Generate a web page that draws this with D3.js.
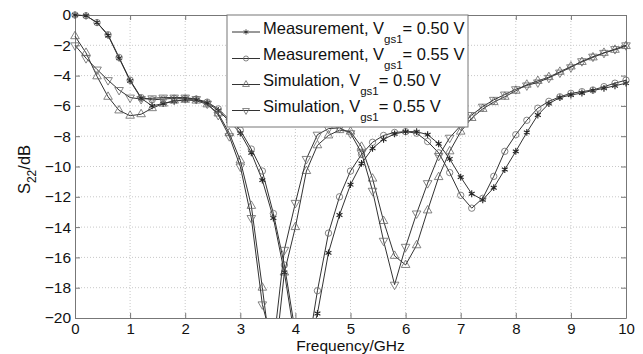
<!DOCTYPE html>
<html>
<head>
<meta charset="utf-8">
<script src="https://cdn.jsdelivr.net/npm/d3@7"></script>
<style>
  body { margin: 0; background: #fff; }
  svg { display: block; font-family: "Liberation Sans", Arial, sans-serif; }
</style>
</head>
<body>
<div id="my_dataviz"></div>
<script>
// frequency points (GHz), one marker each
var freq = [0, 0.2, 0.4, 0.6, 0.8, 1.0, 1.2, 1.4, 1.6, 1.8,
  2.0, 2.2, 2.4, 2.6, 2.8, 3.0, 3.2, 3.4, 3.6, 3.8,
  4.0, 4.2, 4.4, 4.6, 4.8, 5.0, 5.2, 5.4, 5.6, 5.8,
  6.0, 6.2, 6.4, 6.6, 6.8, 7.0, 7.2, 7.4, 7.6, 7.8,
  8.0, 8.2, 8.4, 8.6, 8.8, 9.0, 9.2, 9.4, 9.6, 9.8,
  10.0];

// S22 in dB
var meas050 = [0, -0.05, -0.5, -1.35, -2.85, -4.35, -5.5, -6.0, -5.85, -5.7,
  -5.6, -5.6, -5.8, -6.3, -7.0, -7.8, -9.1, -10.9, -13.4, -17.0,
  -21.6, -22.5, -19.7, -15.7, -13.2, -11.2, -9.8, -8.8, -8.2, -7.85,
  -7.7, -7.7, -7.9, -8.5, -9.5, -10.7, -11.8, -12.2, -11.4, -10.2,
  -9.0, -7.75, -6.6, -5.85, -5.45, -5.28, -5.15, -4.98, -4.84, -4.67,
  -4.5];
var meas055 = [0, -0.05, -0.5, -1.3, -2.8, -4.3, -5.45, -5.6, -5.55, -5.5,
  -5.5, -5.55, -5.75, -6.2, -6.9, -7.6, -8.85, -10.3, -13.1, -16.5,
  -21.0, -22.7, -18.2, -14.4, -12.0, -10.3, -9.2, -8.4, -7.95, -7.75,
  -7.7, -7.8, -8.35, -9.1, -10.4, -11.9, -12.75, -12.1, -10.65, -9.0,
  -7.9, -6.95, -6.15, -5.7, -5.4, -5.17, -5.06, -4.95, -4.73, -4.5,
  -4.3];
var sim050 = [-1.4, -2.5, -4.05, -5.4, -6.3, -6.65, -6.55, -6.15, -5.85, -5.65,
  -5.6, -5.65, -5.9, -6.5, -7.8, -9.6, -12.6, -18.0, -23.7, -17.0,
  -14.0, -10.3, -8.6, -7.95, -7.6, -7.7, -8.7, -10.8, -13.6, -15.9,
  -16.5, -15.2, -12.9, -10.7, -9.0, -7.7, -6.8, -6.2, -5.75, -5.4,
  -5.0, -4.6, -4.35, -4.1, -3.75, -3.4, -3.1, -2.8, -2.5, -2.3,
  -2.05];
var sim055 = [-2.0, -2.85, -3.6, -4.3, -4.95, -5.45, -5.55, -5.5, -5.45, -5.45,
  -5.45, -5.55, -5.85, -6.6, -8.0, -10.0, -13.4, -19.1, -21.9, -15.5,
  -12.4, -9.5, -7.9, -7.5, -7.45, -7.8, -9.1, -11.6, -14.9, -17.8,
  -15.3, -13.1, -11.1, -9.3, -8.1, -7.3, -6.6, -6.05, -5.6, -5.25,
  -4.9, -4.65, -4.45, -4.15, -3.8, -3.45, -3.05, -2.75, -2.5, -2.25,
  -2.0];

var seriesNames = ["Measurement, V", "Measurement, V", "Simulation, V", "Simulation, V"];
var seriesVolts = ["= 0.50 V", "= 0.55 V", "= 0.50 V", "= 0.55 V"];
var seriesMarkers = ["asterisk", "circle", "triangle", "down"];
var seriesValues = [meas050, meas055, sim050, sim055];

var xTicks = [0, 1, 2, 3, 4, 5, 6, 7, 8, 9, 10];
var yTicks = [-20, -18, -16, -14, -12, -10, -8, -6, -4, -2, 0];

// set the dimensions and margins of the graph
var margin = { top: 15, right: 17, bottom: 36, left: 75 },
  width = 643 - margin.left - margin.right,
  height = 354 - margin.top - margin.bottom;

var svg = d3.select("#my_dataviz")
  .append("svg")
  .attr("width", width + margin.left + margin.right)
  .attr("height", height + margin.top + margin.bottom)
  .append("g")
  .attr("transform", "translate(" + margin.left + "," + margin.top + ")");

var x = d3.scaleLinear().domain([0, 10]).range([0, width]);
var y = d3.scaleLinear().domain([-20, 0]).range([height, 0]);

// dotted grid
svg.append("g").selectAll("line")
  .data(xTicks.slice(1, -1))
  .enter().append("line")
  .attr("x1", function (d) { return x(d); })
  .attr("x2", function (d) { return x(d); })
  .attr("y1", 0).attr("y2", height)
  .attr("stroke", "#c8c8c8").attr("stroke-dasharray", "1,2");
svg.append("g").selectAll("line")
  .data(yTicks.slice(1, -1))
  .enter().append("line")
  .attr("y1", function (d) { return y(d); })
  .attr("y2", function (d) { return y(d); })
  .attr("x1", 0).attr("x2", width)
  .attr("stroke", "#c8c8c8").attr("stroke-dasharray", "1,2");

// axes, ticks pointing inwards on all four sides
function styleAxis(g) {
  g.selectAll("path").attr("stroke", "#777");
  g.selectAll("line").attr("stroke", "#777");
  g.selectAll("text").attr("fill", "#111").style("font-size", "15.5px");
}
svg.append("g")
  .attr("transform", "translate(0," + height + ")")
  .call(d3.axisBottom(x).tickValues(xTicks).tickSizeInner(-5).tickSizeOuter(0).tickPadding(5))
  .call(styleAxis)
  .selectAll("text").style("font-size", "15px");
svg.append("g")
  .call(d3.axisLeft(y).tickValues(yTicks).tickSizeInner(-5).tickSizeOuter(0).tickPadding(4))
  .call(styleAxis);
svg.append("g")
  .call(d3.axisTop(x).tickValues(xTicks).tickSizeInner(-5).tickSizeOuter(0).tickFormat(""))
  .call(styleAxis);
svg.append("g")
  .attr("transform", "translate(" + width + ",0)")
  .call(d3.axisRight(y).tickValues(yTicks).tickSizeInner(-5).tickSizeOuter(0).tickFormat(""))
  .call(styleAxis);

// clip everything below -20 dB
svg.append("clipPath").attr("id", "clip")
  .append("rect")
  .attr("x", -6).attr("y", -6)
  .attr("width", width + 12).attr("height", height + 6);

function markerPath(kind, size) {
  if (kind == "asterisk") return d3.symbol().type(d3.symbolAsterisk).size(size)();
  if (kind == "circle") return d3.symbol().type(d3.symbolCircle).size(size)();
  return d3.symbol().type(d3.symbolTriangle).size(size)();
}

var line = d3.line()
  .x(function (d) { return x(d[0]); })
  .y(function (d) { return y(d[1]); });

var plot = svg.append("g").attr("clip-path", "url(#clip)");

seriesValues.forEach(function (vals, i) {
  var pts = freq.map(function (f, j) { return [f, vals[j]]; });
  plot.append("path")
    .datum(pts)
    .attr("fill", "none")
    .attr("stroke", "#333")
    .attr("stroke-width", 1)
    .attr("d", line);
  var kind = seriesMarkers[i];
  plot.selectAll(".m" + i)
    .data(pts)
    .enter().append("path")
    .attr("class", "m" + i)
    .attr("d", markerPath(kind, 32))
    .attr("transform", function (d) {
      return "translate(" + x(d[0]) + "," + y(d[1]) + ")" + (kind == "down" ? " rotate(180)" : "");
    })
    .attr("fill", "none")
    .attr("stroke", kind == "asterisk" ? "#222" : "#666")
    .attr("stroke-width", kind == "asterisk" ? 1.1 : 0.8);
});

// legend
var lg = svg.append("g").attr("transform", "translate(" + (227 - margin.left) + ",0)");
lg.append("rect")
  .attr("width", 241).attr("height", 112)
  .attr("fill", "#fff").attr("stroke", "#777");
var rowY = [17, 43.5, 69.5, 95.5];
seriesNames.forEach(function (name, i) {
  var ly = rowY[i];
  lg.append("line")
    .attr("x1", 5).attr("x2", 33)
    .attr("y1", ly).attr("y2", ly)
    .attr("stroke", "#333");
  var kind = seriesMarkers[i];
  lg.append("path")
    .attr("d", markerPath(kind, 20))
    .attr("transform", "translate(19," + ly + ")" + (kind == "down" ? " rotate(180)" : ""))
    .attr("fill", "none")
    .attr("stroke", kind == "asterisk" ? "#222" : "#666")
    .attr("stroke-width", 0.8);
  var t = lg.append("text")
    .attr("x", 36).attr("y", ly + 1.5)
    .attr("fill", "#111")
    .style("font-size", "16.5px");
  t.append("tspan").text(name);
  t.append("tspan").attr("dy", 9).style("font-size", "11.5px").text("gs1");
  t.append("tspan").attr("dy", -9).text(seriesVolts[i]);
});

// axis labels
svg.append("text")
  .attr("x", width / 2).attr("y", height + 32.5)
  .attr("text-anchor", "middle")
  .attr("fill", "#111")
  .style("font-size", "15.5px")
  .text("Frequency/GHz");

var yl = svg.append("text")
  .attr("transform", "translate(" + (30 - margin.left) + "," + (height / 2 + 3) + ") rotate(-90)")
  .attr("text-anchor", "middle")
  .attr("fill", "#111")
  .style("font-size", "16.5px");
yl.append("tspan").text("S");
yl.append("tspan").attr("dy", 6).style("font-size", "12px").text("22");
yl.append("tspan").attr("dy", -6).text("/dB");
</script>
</body>
</html>
